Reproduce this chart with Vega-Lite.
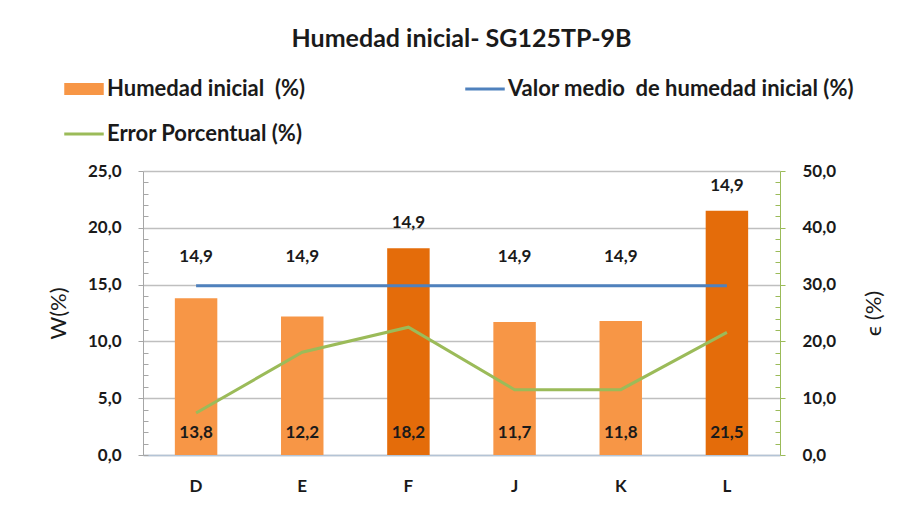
{
  "$schema": "https://vega.github.io/schema/vega-lite/v6.json",
  "autosize": "none",
  "width": 637,
  "height": 284,
  "padding": {"left": 143, "top": 171, "right": 126, "bottom": 54},
  "background": "white",
  "title": {
    "text": "Humedad inicial- SG125TP-9B",
    "anchor": "middle",
    "baseline": "bottom",
    "offset": 1,
    "font": "Lato",
    "fontSize": 25,
    "fontWeight": "bold",
    "color": "#1a1a1a"
  },
  "config": {
    "locale": {"number": {"decimal": ",", "thousands": ".", "grouping": [3], "currency": ["", " €"]}},
    "view": {"stroke": null},
    "font": "Lato",
    "axis": {"labelFont": "Lato", "titleFont": "Lato", "labelColor": "#1a1a1a", "titleColor": "#1a1a1a", "labelOverlap": false}
  },
  "data": {
    "values": [
      {"punto": "D", "hum": 13.8, "mean": 14.9, "err": 7.4},
      {"punto": "E", "hum": 12.2, "mean": 14.9, "err": 18.1},
      {"punto": "F", "hum": 18.2, "mean": 14.9, "err": 22.5},
      {"punto": "J", "hum": 11.7, "mean": 14.9, "err": 11.5},
      {"punto": "K", "hum": 11.8, "mean": 14.9, "err": 11.5},
      {"punto": "L", "hum": 21.5, "mean": 14.9, "err": 21.6}
    ]
  },
  "encoding": {
    "x": {
      "field": "punto",
      "type": "nominal",
      "sort": null,
      "scale": {"paddingInner": 0.6, "paddingOuter": 0.3},
      "axis": {
        "title": null,
        "labelAngle": 0,
        "labelFontSize": 17,
        "labelFontWeight": "bold",
        "labelPadding": 23,
        "ticks": false,
        "domainColor": "#b4c4d6",
        "domainWidth": 1.5
      }
    }
  },
  "layer": [
    {
      "mark": {"type": "point", "opacity": 0},
      "encoding": {
        "y": {
          "field": "hum",
          "type": "quantitative",
          "scale": {"domain": [0, 25], "nice": false},
          "axis": {
            "orient": "left",
            "offset": 0,
            "title": null,
            "values": [0,1,2,3,4,6,7,8,9,11,12,13,14,16,17,18,19,21,22,23,24],
            "labels": false,
            "domain": false,
            "grid": false,
            "tickSize": -5,
            "tickColor": "#a6a6a6"
          }
        }
      }
    },
    {
      "layer": [
        {
          "mark": {"type": "bar"},
          "encoding": {
            "y": {
              "field": "hum",
              "type": "quantitative",
              "scale": {"domain": [0, 25], "nice": false},
              "axis": {
                "orient": "left",
                "offset": 0,
                "title": "W(%)",
                "titleFontSize": 22,
                "titleFontWeight": "normal",
                "titlePadding": 17,
                "values": [0, 5, 10, 15, 20, 25],
                "format": ".1f",
                "labelFontSize": 17,
                "labelFontWeight": "bold",
                "labelPadding": 17,
                "labelOverlap": false,
                "tickSize": 5,
                "tickColor": "#a6a6a6",
                "domainColor": "#a6a6a6",
                "grid": true,
                "gridWidth": 1.5,
                "gridColor": "#bfbfbf"
              }
            },
            "color": {
              "datum": "Humedad inicial  (%)",
              "type": "nominal",
              "condition": {"test": "datum.punto === 'F' || datum.punto === 'L'", "value": "#E46C0A"},
              "scale": {
                "domain": ["Humedad inicial  (%)", "Valor medio  de humedad inicial (%)", "Error Porcentual (%)"],
                "range": ["#F79646", "#4F81BD", "#9BBB59"]
              },
              "legend": {
                "title": null,
                "orient": "none",
                "legendX": -70,
                "legendY": -93,
                "direction": "horizontal",
                "columns": 2,
                "columnPadding": 153,
                "rowPadding": 23,
                "symbolSize": 1560,
                "labelFont": "Lato",
                "labelFontSize": 22,
                "labelFontWeight": "bold",
                "labelColor": "#1a1a1a",
                "labelOffset": 12,
                "labelLimit": 500,
                "labelExpr": "replace(datum.label, '  ', '\u00a0 ')",
                "encode": {
                  "symbols": {
                    "update": {
                      "shape": {"signal": "datum.value === 'Humedad inicial  (%)' ? 'M-1,-0.3H1V0.3H-1Z' : 'M-1,0H1'"},
                      "fill": {"scale": "color", "field": "value"},
                      "stroke": {"scale": "color", "field": "value"},
                      "strokeWidth": {"signal": "datum.value === 'Humedad inicial  (%)' ? 0 : 3"},
                      "opacity": {"value": 1},
                      "fillOpacity": {"value": 1}
                    }
                  }
                }
              }
            }
          }
        },
        {
          "mark": {"type": "line", "strokeWidth": 3},
          "encoding": {
            "y": {"field": "mean", "type": "quantitative"},
            "color": {"datum": "Valor medio  de humedad inicial (%)", "type": "nominal"}
          }
        },
        {
          "transform": [{"filter": "datum.hum <= datum.mean"}],
          "mark": {"type": "text", "dy": -29, "baseline": "middle", "font": "Lato", "fontSize": 17, "fontWeight": "bold", "color": "#1a1a1a"},
          "encoding": {
            "y": {"field": "mean", "type": "quantitative"},
            "text": {"field": "mean", "type": "quantitative", "format": ".1f"}
          }
        },
        {
          "transform": [{"filter": "datum.hum > datum.mean"}],
          "mark": {"type": "text", "dy": -25, "baseline": "middle", "font": "Lato", "fontSize": 17, "fontWeight": "bold", "color": "#1a1a1a"},
          "encoding": {
            "y": {"field": "hum", "type": "quantitative"},
            "text": {"field": "mean", "type": "quantitative", "format": ".1f"}
          }
        },
        {
          "mark": {"type": "text", "dy": -22, "baseline": "middle", "font": "Lato", "fontSize": 17, "fontWeight": "bold", "color": "#1a1a1a"},
          "encoding": {
            "y": {"datum": 0, "type": "quantitative"},
            "text": {"field": "hum", "type": "quantitative", "format": ".1f"}
          }
        }
      ]
    },
    {
      "mark": {"type": "line", "strokeWidth": 3},
      "encoding": {
        "y": {
          "field": "err",
          "type": "quantitative",
          "scale": {"domain": [0, 50], "nice": false},
          "axis": {
            "orient": "right",
            "title": "ϵ (%)",
            "titleAngle": 270,
            "titleFontSize": 22,
            "titleFontWeight": "normal",
            "titlePadding": 50,
            "values": [0,2,4,6,8,10,12,14,16,18,20,22,24,26,28,30,32,34,36,38,40,42,44,46,48,50],
            "format": ".1f",
            "labelExpr": "datum.value % 10 === 0 ? datum.label : ''",
            "labelFontSize": 17,
            "labelFontWeight": "bold",
            "labelPadding": 17,
            "labelOverlap": false,
            "tickSize": {"condition": {"test": "datum.value % 10 === 0", "value": 5}, "value": -5},
            "tickColor": "#9BBB59",
            "domainColor": "#9BBB59",
            "grid": false
          }
        },
        "color": {"datum": "Error Porcentual (%)", "type": "nominal"}
      }
    }
  ],
  "resolve": {"scale": {"y": "independent"}}
}
